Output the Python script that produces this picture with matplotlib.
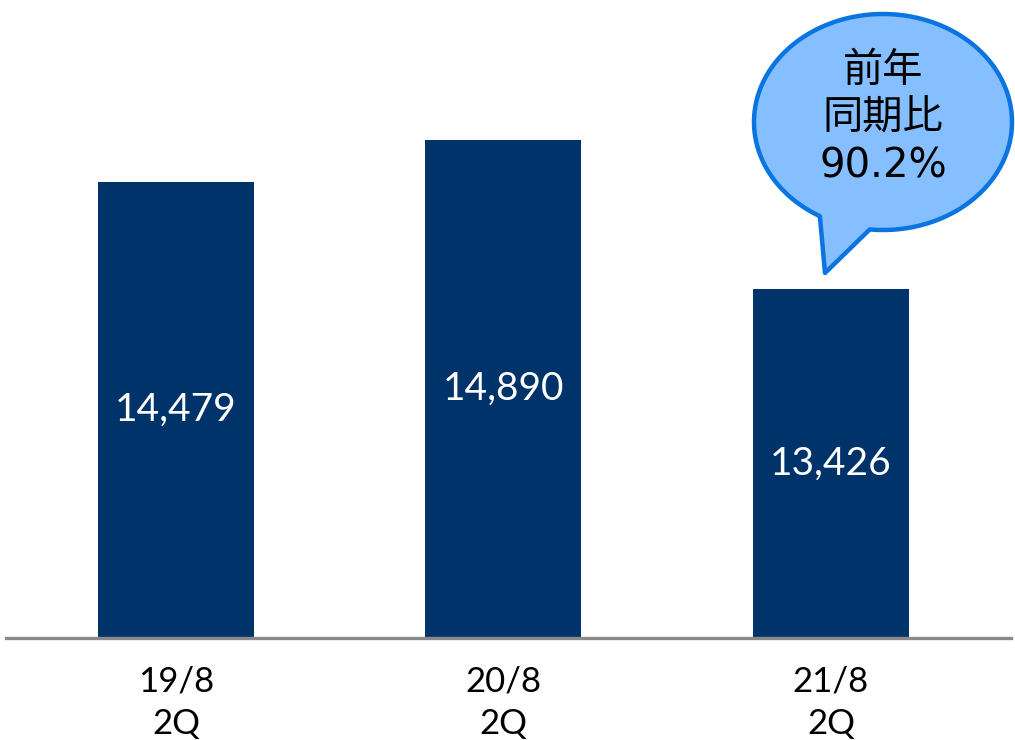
import numpy as np
import matplotlib
matplotlib.use("Agg")
import matplotlib.pyplot as plt
from matplotlib.path import Path
from matplotlib.patches import PathPatch

# Quarterly figures
categories = ["19/8\n2Q", "20/8\n2Q", "21/8\n2Q"]
values = [14479, 14890, 13426]
value_labels = ["14,479", "14,890", "13,426"]
yoy_lines = ["前年", "同期比", "90.2%"]

W, H, DPI = 1015, 740, 100
fig = plt.figure(figsize=(W / DPI, H / DPI), dpi=DPI)

bar_color = "#00336A"
num_font = ["Lato", "DejaVu Sans"]

# Main bar axes (baseline at 10,000)
ax = fig.add_axes([0, (H - 638) / H, 1, 638 / H])
x = np.arange(len(values))
bars = ax.bar(x, values, width=0.476, color=bar_color, bottom=0)
ax.set_xlim(-0.537, 2.562)
ax.set_ylim(10000, 16268)
for b, v, lab in zip(bars, values, value_labels):
    ax.text(b.get_x() + b.get_width() / 2, (10000 + v) / 2, lab,
            ha="center", va="center", color="white", fontsize=28,
            family=num_font)

for s in ["top", "right", "left"]:
    ax.spines[s].set_visible(False)
ax.spines["bottom"].set_color("#898989")
ax.spines["bottom"].set_linewidth(2.4)
ax.spines["bottom"].set_bounds(-0.52, 2.55)
ax.set_yticks([])
ax.set_xticks(x)
ax.set_xticklabels(categories, fontsize=25, family=num_font,
                   linespacing=1.4, color="black")
ax.tick_params(axis="x", length=0, pad=20)
ax.patch.set_alpha(0)

# Overlay in pixel coordinates for the speech bubble
ov = fig.add_axes([0, 0, 1, 1])
ov.set_xlim(0, W)
ov.set_ylim(H, 0)
ov.axis("off")
ov.patch.set_alpha(0)

cx, cy, a, bb = 883, 122, 129, 108
p1 = np.deg2rad(119.3)
p2 = np.deg2rad(95.9) + 2 * np.pi
t = np.linspace(p1, p2, 300)
pts = [(cx + a * np.cos(tt), cy + bb * np.sin(tt)) for tt in t]
pts.append((825, 273))
pts.append(pts[0])
codes = [Path.MOVETO] + [Path.LINETO] * (len(pts) - 2) + [Path.CLOSEPOLY]
bubble = PathPatch(Path(pts, codes), facecolor="#86BFFF", edgecolor="#0A74E0",
                   linewidth=3.2, joinstyle="round")
ov.add_patch(bubble)
line_y = [70, 118, 167]
line_fonts = [["Noto Sans CJK JP", "DejaVu Sans"],
              ["Noto Sans CJK JP", "DejaVu Sans"],
              ["DejaVu Sans"]]
for txt, yy, fam in zip(yoy_lines, line_y, line_fonts):
    ov.text(883, yy, txt, ha="center", va="center", fontsize=29,
            family=fam, color="black")

fig.savefig("out.png", dpi=DPI)
